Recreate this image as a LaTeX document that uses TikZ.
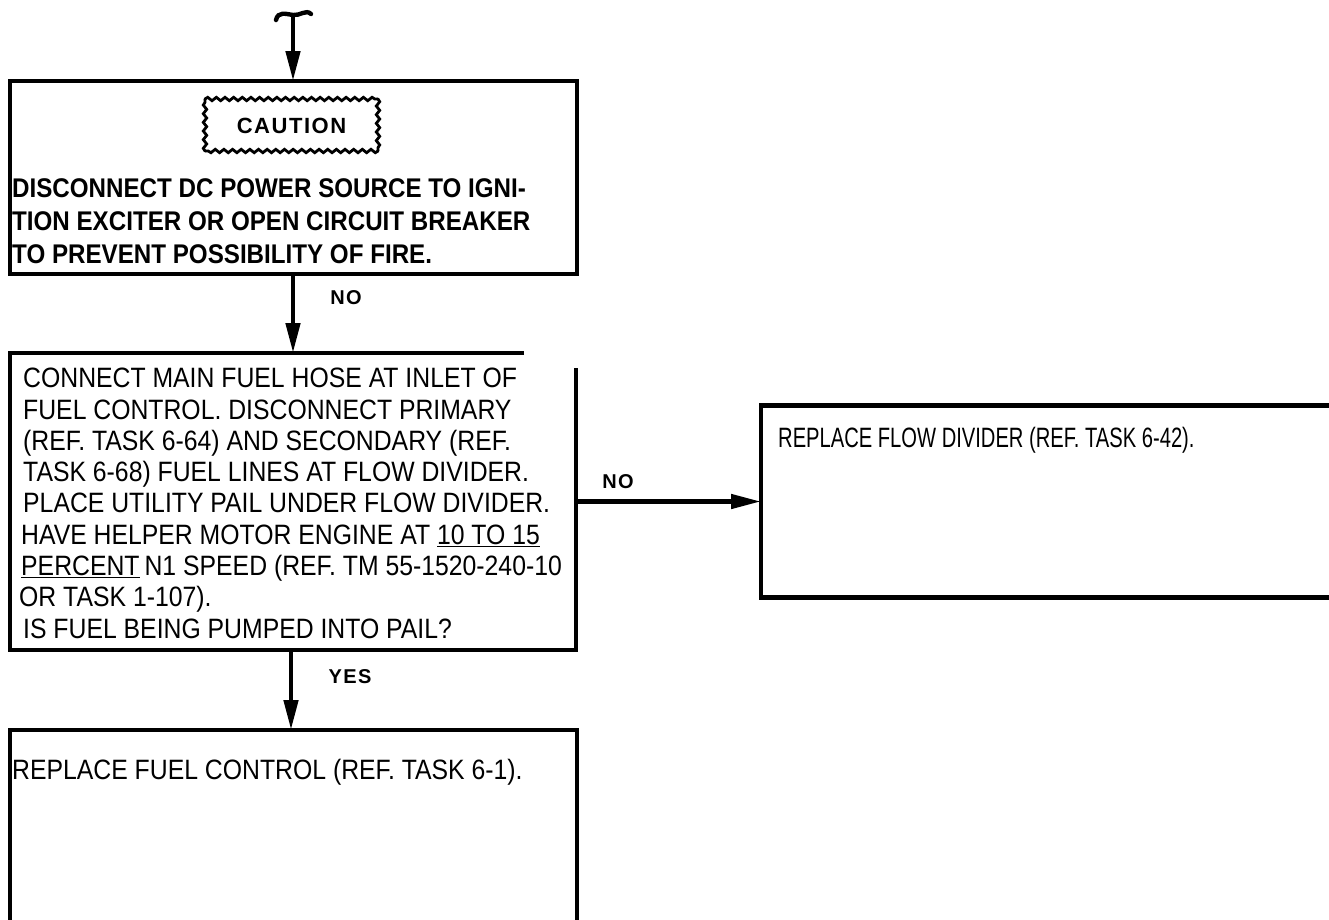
\documentclass[tikz,border=0pt]{standalone}
\usepackage{fontspec}
\setmainfont{Liberation Sans}[FakeStretch=0.885]
\newfontfamily\cfont{Liberation Sans}[FakeStretch=0.895]
\newfontfamily\nfont{Liberation Sans}[FakeStretch=0.72]
\newfontfamily\lfont{Liberation Sans}[LetterSpace=7]
\usetikzlibrary{arrows.meta,decorations.pathmorphing}
\begin{document}
\begin{tikzpicture}[x=1pt,y=-1pt,
  boxline/.style={line width=4.4pt},
  flowarrow/.style={line width=4.6pt,-{Triangle[length=30pt,width=14pt]}},
  area/.style={inner sep=0pt,outer sep=0pt,draw=none},
  bodytext/.style={font=\fontsize{28}{31.3}\selectfont,align=left,anchor=north west,inner sep=0pt},
  narrowtext/.style={font=\nfont\fontsize{28}{31.3}\selectfont,align=left,anchor=north west,inner sep=0pt},
  cautiontext/.style={font=\cfont\bfseries\fontsize{27}{33}\selectfont,align=left,anchor=north west,inner sep=0pt},
  wavy/.style={line width=2.8pt,line cap=round,decorate,decoration={snake,amplitude=1.7pt,segment length=8.65pt}},
  tag/.style={font=\lfont\bfseries\fontsize{20}{22}\selectfont,inner sep=0pt}]
\useasboundingbox (0,0) rectangle (1329,919);

% invisible areas of the boxes
\node[area,minimum width=567pt,minimum height=193pt] (caution) at (293.5,177.5) {};
\node[area,minimum width=566pt,minimum height=297pt] (check) at (293,501.5) {};
\node[area,minimum width=579pt,minimum height=192pt] (flowdiv) at (1050.5,501.5) {};
\node[area,minimum width=567pt,minimum height=200pt] (fuel) at (293.5,830) {};
\coordinate (start) at (293,15);

% top curly start
\draw[line width=4.4pt,line cap=round] (276,20) .. controls (278,11) and (286,14) .. (293,15) .. controls (300,16) and (306,9) .. (311,14);

% caution box
\draw[boxline] (caution.south west) rectangle (caution.north east);
\draw[wavy] (205,99) -- (378,99);
\draw[wavy] (378,99) -- (378,151);
\draw[wavy] (378,151) -- (205,151);
\draw[wavy] (205,151) -- (205,99);
\node[font=\lfont\bfseries\fontsize{22}{24}\selectfont,inner sep=0pt] (cautionlabel) at (291.5,126) {CAUTION};
\node[cautiontext] (cautionbody) at (12,178) {DISCONNECT DC POWER SOURCE TO IGNI-\\TION EXCITER OR OPEN CIRCUIT BREAKER\\TO PREVENT POSSIBILITY OF FIRE.};

% check box
\draw[boxline] (524,353) -- (check.north west) -- (check.south west) -- (check.south east) -- (576,368);
\node[bodytext] (checkbody) at (23,368) {CONNECT MAIN FUEL HOSE AT INLET OF\\
FUEL CONTROL. DISCONNECT PRIMARY\\
(REF. TASK 6-64) AND SECONDARY (REF.\\
TASK 6-68) FUEL LINES AT FLOW DIVIDER.\\
PLACE UTILITY PAIL UNDER FLOW DIVIDER.\\
\hspace*{-2pt}HAVE HELPER MOTOR ENGINE AT \underline{10 TO 15}\\
\hspace*{-2pt}\underline{PERCENT}\hspace{5pt}N1 SPEED (REF. TM 55-1520-240-10\\
\hspace*{-4pt}OR TASK 1-107).\\
IS FUEL BEING PUMPED INTO PAIL?};

% flow divider box (open at the right)
\draw[boxline] (1329,405.5) -- (flowdiv.north west) -- (flowdiv.south west) -- (1329,597.5);
\node[narrowtext] (flowbody) at (778,427) {REPLACE FLOW DIVIDER (REF. TASK 6-42).};

% fuel control box (open at the bottom)
\draw[boxline] (fuel.south west) -- (fuel.north west) -- (fuel.north east) -- (fuel.south east);
\node[bodytext] (fuelbody) at (12,759) {REPLACE FUEL CONTROL (REF. TASK 6-1).};

% connectors
\draw[flowarrow] (start) -- (start |- caution.north);
\draw[flowarrow] (caution.south -| start) -- (check.north -| start);
\draw[flowarrow] (check.east) -- (flowdiv.west);
\draw[flowarrow] (check.south -| 291,0) -- (fuel.north -| 291,0);

% labels
\node[tag] (nodown) at (346,298) {NO};
\node[tag] (noright) at (618,482) {NO};
\node[tag] (yes) at (350,677) {YES};
\end{tikzpicture}
\end{document}
